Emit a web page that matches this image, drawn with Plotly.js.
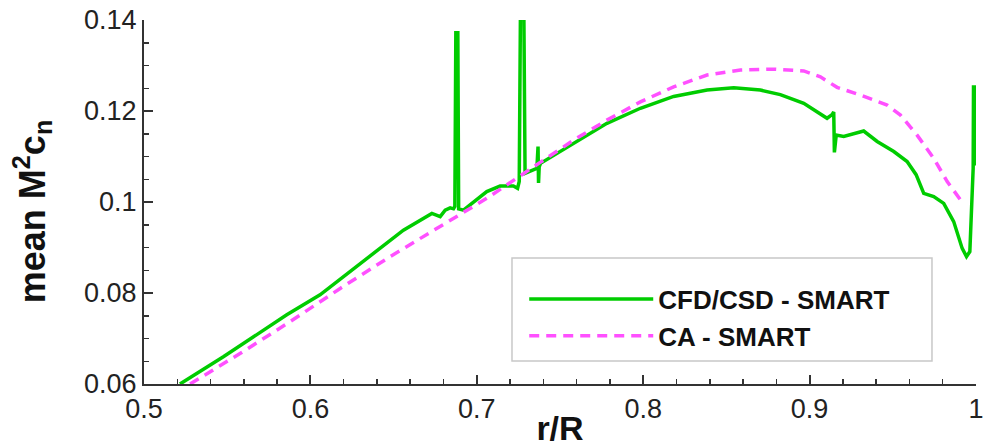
<!DOCTYPE html>
<html>
<head>
<meta charset="utf-8">
<script src="https://cdn.plot.ly/plotly-3.0.1.min.js"></script>
<style>html,body{margin:0;padding:0;background:#fff;}#chart{width:984px;height:447px;}</style>
</head>
<body>
<div id="chart"></div>
<script>
// CFD/CSD - SMART (green solid)
var cfdX = [0.5216,0.5477,0.5858,0.6058,0.6379,0.6559,0.6730,0.6780,0.6810,0.6840,0.6860,0.6868,0.6874,0.6886,0.6891,0.6920,0.7060,0.7140,0.7220,0.7245,0.7255,0.7262,0.7283,0.7290,0.7361,0.7368,0.7371,0.7375,0.7383,0.7582,0.7782,0.7983,0.8183,0.8384,0.8544,0.8704,0.8824,0.8965,0.9105,0.9135,0.9145,0.9149,0.9160,0.9205,0.9325,0.9406,0.9506,0.9586,0.9640,0.9686,0.9746,0.9806,0.9866,0.9917,0.9943,0.9963,0.9983,0.9985,0.9994,0.9996];
var cfdY = [0.0600,0.0660,0.0752,0.0796,0.0887,0.0938,0.0975,0.0968,0.0982,0.0987,0.0985,0.0990,0.1372,0.1372,0.0985,0.0982,0.1023,0.1035,0.1035,0.1030,0.1045,0.1405,0.1405,0.1063,0.1074,0.1122,0.1042,0.1077,0.1085,0.1129,0.1173,0.1206,0.1232,0.1246,0.1251,0.1246,0.1236,0.1217,0.1184,0.1192,0.1198,0.1109,0.1147,0.1144,0.1156,0.1133,0.1111,0.1089,0.1060,0.1019,0.1012,0.0997,0.0957,0.0898,0.0880,0.0891,0.1074,0.1253,0.1253,0.1080];
// CA - SMART (magenta dashed)
var caX = [0.5277,0.5577,0.5878,0.6179,0.6479,0.6780,0.7060,0.7381,0.7582,0.7782,0.7983,0.8183,0.8384,0.8584,0.8784,0.8965,0.9065,0.9165,0.9305,0.9466,0.9546,0.9646,0.9746,0.9827,0.9907,0.9920];
var caY = [0.0600,0.0667,0.0737,0.0810,0.0880,0.0946,0.1008,0.1087,0.1136,0.1180,0.1220,0.1253,0.1279,0.1290,0.1292,0.1288,0.1275,0.1252,0.1235,0.1213,0.1191,0.1147,0.1096,0.1045,0.1004,0.0998];
var seriesNames = ['CFD/CSD - SMART', 'CA - SMART'];
var xTitle = 'r/R';
var yTitle = '<b>mean M<sup>2</sup>c<sub>n</sub></b>';

var FONT = 'Liberation Sans, Arial, Helvetica, sans-serif';
var axisCol = '#333333';

var traces = [
  {x: cfdX, y: cfdY, name: seriesNames[0], mode: 'lines', type: 'scatter',
   line: {color: 'rgb(0,204,0)', width: 3.5}},
  {x: caX, y: caY, name: seriesNames[1], mode: 'lines', type: 'scatter',
   line: {color: 'rgb(255,80,255)', width: 3.5, dash: '10px,7px'}}
];

var axisCommon = {
  showline: true, linecolor: axisCol, linewidth: 2, mirror: false,
  ticks: 'inside', ticklen: 9, tickwidth: 2, tickcolor: axisCol,
  showgrid: false, zeroline: false, automargin: false,
  tickfont: {family: FONT, size: 27, color: '#222'}
};

var layout = {
  width: 984, height: 447,
  margin: {l: 144, r: 8, t: 20, b: 63},
  paper_bgcolor: '#fff', plot_bgcolor: '#fff',
  showlegend: true,
  legend: {x: 0.457, y: 0.298, xanchor: 'left', yanchor: 'top',
    bgcolor: 'rgba(0,0,0,0)', borderwidth: 0, itemwidth: 124,
    font: {family: FONT, size: 26, color: '#111', weight: 'bold'}},
  xaxis: Object.assign({}, axisCommon, {
    range: [0.5, 1], tick0: 0.5, dtick: 0.1,
    minor: {dtick: 0.02, ticks: 'inside', ticklen: 5, tickwidth: 1.5, tickcolor: axisCol, showgrid: false},
    title: {text: xTitle, font: {family: FONT, size: 34, color: '#111', weight: 'bold'}}
  }),
  yaxis: Object.assign({}, axisCommon, {
    range: [0.06, 0.14], tick0: 0.06, dtick: 0.02,
    minor: {dtick: 0.005, ticks: 'inside', ticklen: 5, tickwidth: 1.5, tickcolor: axisCol, showgrid: false}
  }),
  annotations: [
    {text: yTitle, xref: 'paper', yref: 'paper', x: -0.1346, y: 0.472,
     xanchor: 'center', yanchor: 'middle', textangle: -90, showarrow: false,
     font: {family: FONT, size: 36, color: '#111'}}
  ],
  shapes: [
    {type: 'rect', xref: 'paper', yref: 'paper', x0: 0.4423, x1: 0.9471, y0: 0.0632, y1: 0.3462,
     line: {color: '#c8c8c8', width: 1.5}, fillcolor: 'rgba(255,255,255,0)', layer: 'below'}
  ]
};

Plotly.newPlot('chart', traces, layout, {displayModeBar: false, staticPlot: true});
</script>
</body>
</html>
